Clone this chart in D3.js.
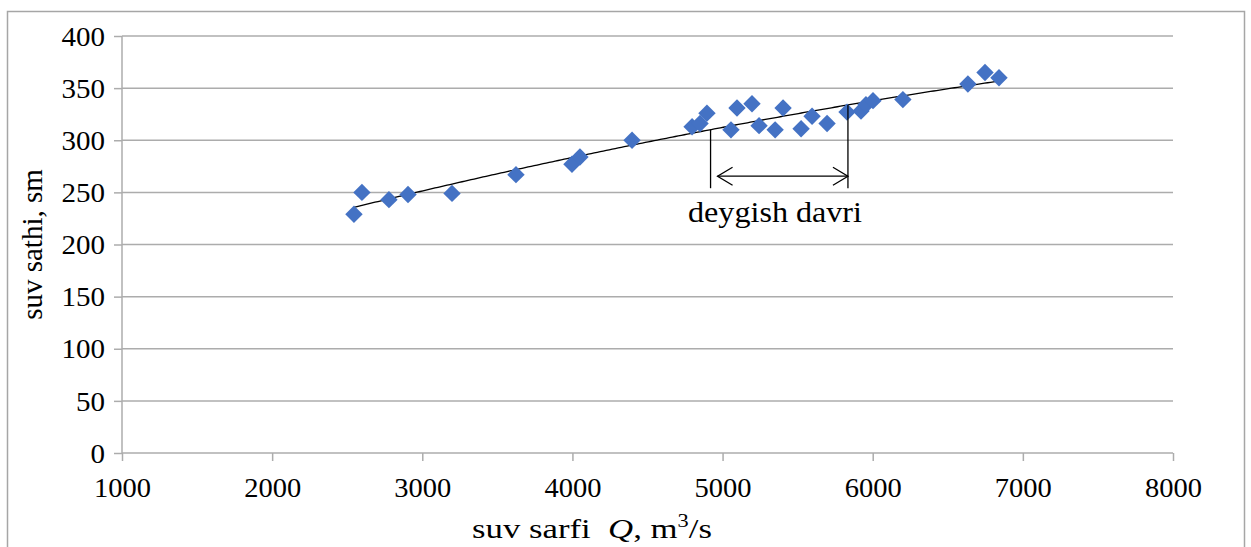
<!DOCTYPE html>
<html><head><meta charset="utf-8">
<script src="https://cdn.jsdelivr.net/npm/d3@7"></script>
<style>body{margin:0;background:#fff}svg{display:block}text{font-family:"Liberation Serif","Times New Roman",serif;fill:#000}</style>
</head><body>
<script>
const qValues = [2545,2598,2778,2905,3198,3624,3997,4050,4397,4797,4850,4896,5056,5096,5196,5243,5350,5403,5523,5596,5696,5829,5922,5955,6002,6201,6634,6748,6841];
const hValues = [229,250,243,248,249,267,277,284,300,313,316,326,310,331,335,314,310,331,311,323,316,327,328,334,338,339,354,365,360];
const xTicks = [1000,2000,3000,4000,5000,6000,7000,8000];
const yTicks = [0,50,100,150,200,250,300,350,400];
const periodQ = [4920,5835];
const periodH = [254,265.5];
const periodLabel = "deygish davri";

const W=1251,H=547;
const svg=d3.select("body").append("svg").attr("width",W).attr("height",H);
svg.append("rect").attr("x",7.5).attr("y",11.5).attr("width",1237).attr("height",560).attr("fill","none").attr("stroke","#a6a6a6").attr("stroke-width",1.5);
const x=d3.scaleLinear().domain([1000,8000]).range([122,1173]);
const y=d3.scaleLinear().domain([0,400]).range([453,36]);
const grid="#acacac";
svg.append("g").selectAll("line").data(yTicks.filter(d=>d>0)).join("line")
 .attr("x1",x(1000)).attr("x2",x(8000)).attr("y1",d=>y(d)).attr("y2",d=>y(d)).attr("stroke",grid).attr("stroke-width",1.5);
const gx=svg.append("g").attr("transform",`translate(0,${y(0)})`).call(d3.axisBottom(x).tickValues(xTicks).tickSize(8).tickFormat(d3.format("d")));
const gy=svg.append("g").attr("transform",`translate(${x(1000)},0)`).call(d3.axisLeft(y).tickValues(yTicks).tickSize(8).tickFormat(d3.format("d")));
[gx,gy].forEach(g=>{g.selectAll("path,line").attr("stroke",grid).attr("stroke-width",1.5);g.select(".domain").attr("d",null);});
gx.append("line").attr("x1",x(1000)).attr("x2",x(8000)).attr("stroke",grid).attr("stroke-width",1.5);
gy.append("line").attr("y1",y(0)).attr("y2",y(400)).attr("stroke",grid).attr("stroke-width",1.5);
gx.selectAll(".tick text").attr("font-size",27).attr("font-family","Liberation Serif").attr("fill","#000").attr("dy",null).attr("y",44)
  .attr("textLength",57).attr("lengthAdjust","spacingAndGlyphs");
gy.selectAll(".tick text").attr("font-size",27).attr("font-family","Liberation Serif").attr("fill","#000").attr("x",-17).attr("dy","0.34em")
  .attr("textLength",d=>String(d).length*14.5).attr("lengthAdjust","spacingAndGlyphs");

// quadratic least squares trend
const mx=d3.mean(qValues);
const S=k=>d3.sum(qValues,q=>Math.pow((q-mx)/1000,k));
const T=k=>d3.sum(qValues,(q,i)=>Math.pow((q-mx)/1000,k)*hValues[i]);
const A=[[S(0),S(1),S(2)],[S(1),S(2),S(3)],[S(2),S(3),S(4)]], B=[T(0),T(1),T(2)];
function solve(A,b){const M=A.map((r,i)=>[...r,b[i]]);for(let i=0;i<3;i++){let p=i;for(let j=i+1;j<3;j++)if(Math.abs(M[j][i])>Math.abs(M[p][i]))p=j;[M[i],M[p]]=[M[p],M[i]];for(let j=i+1;j<3;j++){const f=M[j][i]/M[i][i];for(let k=i;k<4;k++)M[j][k]-=f*M[i][k];}}const r=[0,0,0];for(let i=2;i>=0;i--){let s=M[i][3];for(let k=i+1;k<3;k++)s-=M[i][k]*r[k];r[i]=s/M[i][i];}return r;}
const c=solve(A,B);
const f=q=>{const t=(q-mx)/1000;return c[0]+c[1]*t+c[2]*t*t;};
const qs=d3.range(d3.min(qValues),d3.max(qValues)+1,20);
svg.append("path").attr("d",d3.line().x(d=>x(d)).y(d=>y(f(d)))(qs)).attr("fill","none").attr("stroke","#000").attr("stroke-width",1.3);

// points (diamonds)
const r=8.7;
svg.append("g").selectAll("path").data(qValues).join("path")
 .attr("d",(d,i)=>{const cx=x(d),cy=y(hValues[i]);return `M${cx},${cy-r}L${cx+r},${cy}L${cx},${cy+r}L${cx-r},${cy}Z`;})
 .attr("fill","#4472C4");

// annotation
const ann=svg.append("g").attr("stroke","#000").attr("stroke-width",1.3).attr("fill","none");
periodQ.forEach(q=>ann.append("line").attr("x1",x(q)).attr("x2",x(q)).attr("y1",y(f(q))).attr("y2",y(periodH[0])));
const ay=y(periodH[1]), ax1=x(periodQ[0])+7, ax2=x(periodQ[1]);
ann.append("line").attr("x1",ax1).attr("x2",ax2).attr("y1",ay).attr("y2",ay);
ann.append("path").attr("d",`M${ax1+15},${ay-9}L${ax1},${ay}L${ax1+15},${ay+9}`);
ann.append("path").attr("d",`M${ax2-15},${ay-9}L${ax2},${ay}L${ax2-15},${ay+9}`);
svg.append("text").attr("x",688).attr("y",222).attr("font-size",30)
 .attr("textLength",174).attr("lengthAdjust","spacingAndGlyphs").text(periodLabel);

// axis titles
const xt=svg.append("text").attr("x",472).attr("y",538).attr("font-size",28)
 .attr("textLength",240).attr("lengthAdjust","spacingAndGlyphs");
xt.append("tspan").text("suv sarfi\u00a0\u00a0");
xt.append("tspan").attr("font-style","italic").text("Q");
xt.append("tspan").text(", m");
xt.append("tspan").attr("font-size",18).attr("dy",-11).text("3");
xt.append("tspan").attr("dy",11).text("/s");
svg.append("text").attr("transform",`translate(42,${(y(0)+y(400))/2}) rotate(-90)`).attr("text-anchor","middle").attr("font-size",29).text("suv sathi, sm");
</script>
</body></html>
